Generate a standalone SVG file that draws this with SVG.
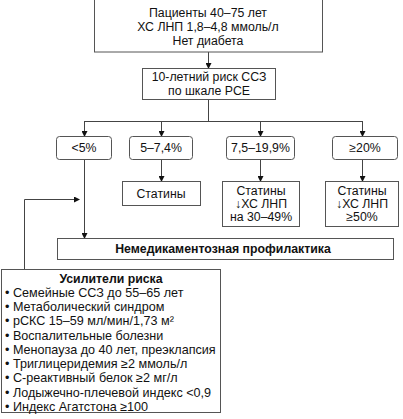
<svg xmlns="http://www.w3.org/2000/svg" width="403" height="419" viewBox="0 0 403 419">
<style>
.b{fill:#fff;stroke:#555;stroke-width:1}
.t{font-family:"Liberation Sans",Arial,sans-serif;font-size:12.3px;fill:#111;text-anchor:middle}
.l{font-family:"Liberation Sans",Arial,sans-serif;font-size:12.6px;fill:#111}
.bold{font-weight:bold}
.c{fill:none;stroke:#444;stroke-width:1}
</style>
<defs>
<marker id="a" markerWidth="6" markerHeight="6" refX="5" refY="3" orient="auto" markerUnits="userSpaceOnUse">
<path d="M0,0 L6,3 L0,6 z" fill="#111"/>
</marker>
</defs>
<g id="connectors">
<path class="c" d="M208.5,52 V68" marker-end="url(#a)"/>
<path class="c" d="M208.5,99 V121 M84.5,121.5 H363"/>
<path class="c" d="M84.5,121 V136" marker-end="url(#a)"/>
<path class="c" d="M161.5,121 V136" marker-end="url(#a)"/>
<path class="c" d="M260.5,121 V136" marker-end="url(#a)"/>
<path class="c" d="M362.5,121 V136" marker-end="url(#a)"/>
<path class="c" d="M161.5,159 V181" marker-end="url(#a)"/>
<path class="c" d="M260.5,160 V181" marker-end="url(#a)"/>
<path class="c" d="M362.5,160 V181" marker-end="url(#a)"/>
<path class="c" d="M84.5,159 V238" marker-end="url(#a)"/>
<path class="c" d="M24.5,269 V199.5 H79" marker-end="url(#a)"/>
</g>
<g id="patients">
<rect class="b" x="94.5" y="-1" width="228" height="53"/>
<text class="t" x="208" y="17">Пациенты 40–75 лет</text>
<text class="t" x="208" y="31">ХС ЛНП 1,8–4,8 ммоль/л</text>
<text class="t" x="208" y="45">Нет диабета</text>
</g>
<g id="risk">
<rect class="b" x="142.5" y="68.5" width="133" height="31"/>
<text class="t" x="209" y="81">10-летний риск ССЗ</text>
<text class="t" x="209" y="95">по шкале PCE</text>
</g>
<g id="r1">
<rect class="b" x="56.5" y="136.5" width="55" height="23" rx="3"/>
<text class="t" x="84" y="152">&lt;5%</text>
</g>
<g id="r2">
<rect class="b" x="129.5" y="136.5" width="63" height="23" rx="3"/>
<text class="t" x="161" y="152">5–7,4%</text>
</g>
<g id="r3">
<rect class="b" x="226.5" y="136.5" width="68" height="23" rx="3"/>
<text class="t" x="260.5" y="152">7,5–19,9%</text>
</g>
<g id="r4">
<rect class="b" x="332.5" y="136.5" width="65" height="23" rx="3"/>
<text class="t" x="365" y="152">≥20%</text>
</g>
<g id="s2">
<rect class="b" x="122.5" y="181.5" width="78" height="24"/>
<text class="t" x="161" y="198">Статины</text>
</g>
<g id="s3">
<rect class="b" x="222.5" y="181.5" width="77" height="45"/>
<text class="t" x="261" y="195">Статины</text>
<text class="t" x="261" y="208">↓ХС ЛНП</text>
<text class="t" x="261" y="221">на 30–49%</text>
</g>
<g id="s4">
<rect class="b" x="325.5" y="181.5" width="73" height="45"/>
<text class="t" x="362" y="195">Статины</text>
<text class="t" x="362" y="208">↓ХС ЛНП</text>
<text class="t" x="362" y="221">≥50%</text>
</g>
<g id="nonmed">
<rect class="b" x="57.5" y="238.5" width="336" height="21"/>
<text class="t bold" x="223" y="253">Немедикаментозная профилактика</text>
</g>
<g id="enhancers">
<rect class="b" x="1.5" y="269.5" width="219" height="143"/>
<text class="t bold" x="111" y="283">Усилители риска</text>
<text class="l" x="5" y="297">• Семейные ССЗ до 55–65 лет</text>
<text class="l" x="5" y="311">• Метаболический синдром</text>
<text class="l" x="5" y="325">• рСКС 15–59 мл/мин/1,73 м²</text>
<text class="l" x="5" y="340">• Воспалительные болезни</text>
<text class="l" x="5" y="354">• Менопауза до 40 лет, преэклапсия</text>
<text class="l" x="5" y="368">• Триглицеридемия ≥2 ммоль/л</text>
<text class="l" x="5" y="382">• С-реактивный белок ≥2 мг/л</text>
<text class="l" x="5" y="397">• Лодыжечно-плечевой индекс &lt;0,9</text>
<text class="l" x="5" y="411">• Индекс Агатстона ≥100</text>
</g>
</svg>
